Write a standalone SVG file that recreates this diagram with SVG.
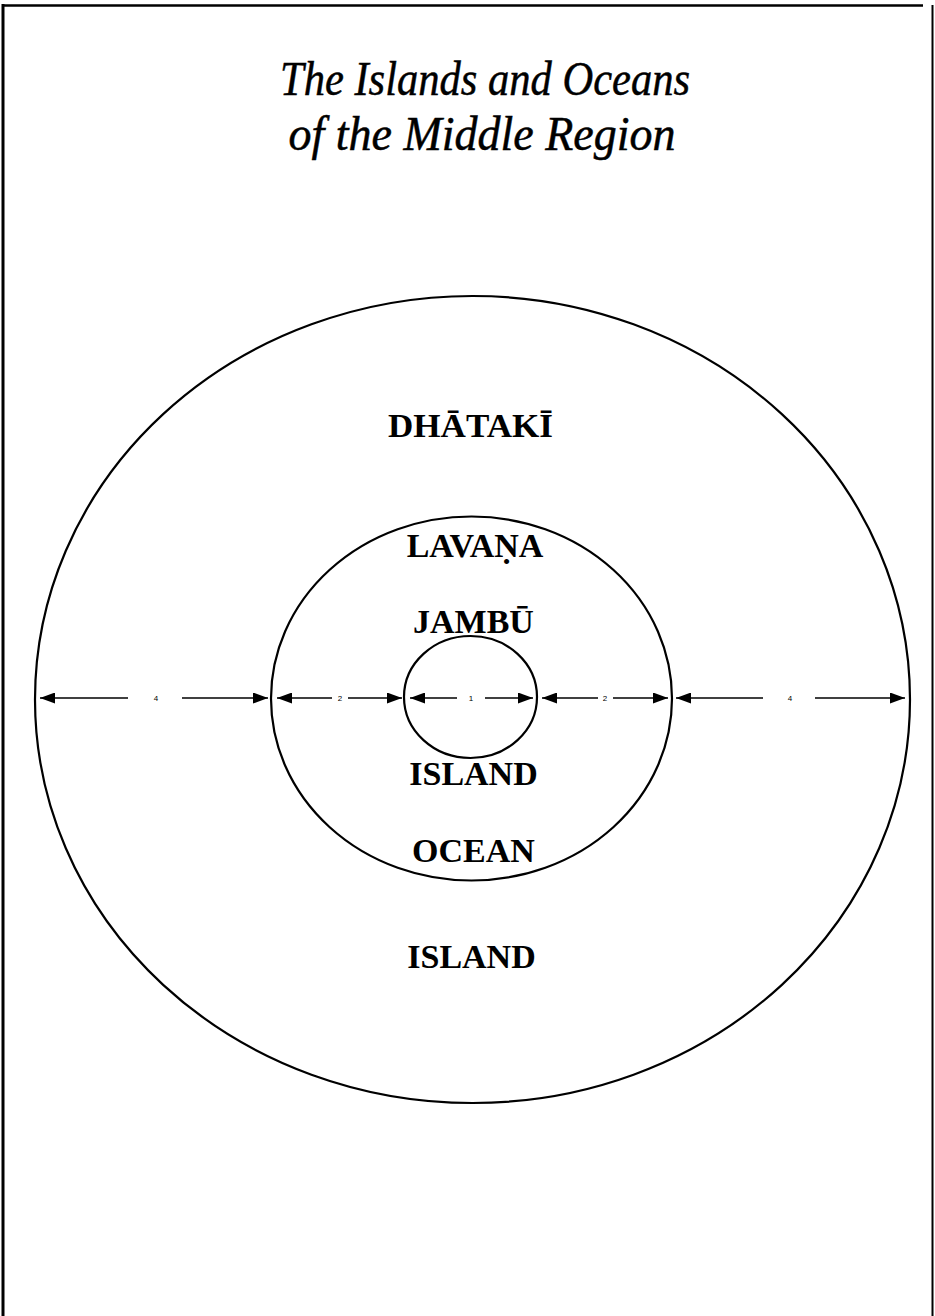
<svg xmlns="http://www.w3.org/2000/svg" width="935" height="1316" viewBox="0 0 935 1316">
<style>
.ring{fill:none;stroke:#000;stroke-width:2.2}
.lbl{font-family:"Liberation Serif","Times New Roman",serif;font-weight:bold;font-size:34px;text-anchor:middle;fill:#000}
.num{font-family:"Liberation Sans",Arial,sans-serif;font-size:8px;text-anchor:middle;fill:#000}
.ttl{font-family:"Liberation Serif","Times New Roman",serif;font-style:italic;font-size:48px;text-anchor:middle;fill:#000;stroke:#000;stroke-width:0.5}
.dim{stroke:#000;stroke-width:1.6;fill:none}
</style>
<defs>
<marker id="ah" viewBox="0 0 15 11" refX="15" refY="5.5" markerWidth="15" markerHeight="11" markerUnits="userSpaceOnUse" orient="auto">
<path d="M0,0 L15,5.5 L0,11 Z" fill="#000"/>
</marker>
</defs>
<rect width="935" height="1316" fill="#fff"/>
<g id="frame" stroke="#000" fill="none">
<line x1="2" y1="5.5" x2="923" y2="5.5" stroke-width="2.5"/>
<line x1="3" y1="4" x2="3" y2="1316" stroke-width="3"/>
<line x1="932.5" y1="5" x2="932.5" y2="1316" stroke-width="2"/>
</g>
<g id="title">
<text class="ttl" x="485" y="95" textLength="410" lengthAdjust="spacingAndGlyphs">The Islands and Oceans</text>
<text class="ttl" x="482" y="150" textLength="387" lengthAdjust="spacingAndGlyphs">of the Middle Region</text>
</g>
<g id="dhataki">
<ellipse class="ring" cx="472.5" cy="699.5" rx="437.5" ry="403.5"/>
<text class="lbl" x="470.5" y="437" textLength="165" lengthAdjust="spacingAndGlyphs">DHĀTAKĪ</text>
<text class="lbl" x="471.5" y="968">ISLAND</text>
</g>
<g id="lavana">
<ellipse class="ring" cx="471.5" cy="698.5" rx="200.5" ry="182"/>
<text class="lbl" x="475" y="557">LAVAṆA</text>
<text class="lbl" x="473.5" y="862">OCEAN</text>
</g>
<g id="jambu">
<ellipse class="ring" cx="470.5" cy="697" rx="66.5" ry="61"/>
<text class="lbl" x="473.5" y="633">JAMBŪ</text>
<text class="lbl" x="473.5" y="785">ISLAND</text>
</g>
<g id="connectors">
<line class="dim" x1="128" y1="698" x2="40" y2="698" marker-end="url(#ah)"/>
<line class="dim" x1="182" y1="698" x2="268" y2="698" marker-end="url(#ah)"/>
<line class="dim" x1="332" y1="698" x2="277" y2="698" marker-end="url(#ah)"/>
<line class="dim" x1="348" y1="698" x2="402" y2="698" marker-end="url(#ah)"/>
<line class="dim" x1="457" y1="698" x2="410" y2="698" marker-end="url(#ah)"/>
<line class="dim" x1="485" y1="698" x2="533" y2="698" marker-end="url(#ah)"/>
<line class="dim" x1="598" y1="698" x2="542" y2="698" marker-end="url(#ah)"/>
<line class="dim" x1="613" y1="698" x2="668" y2="698" marker-end="url(#ah)"/>
<line class="dim" x1="763" y1="698" x2="676" y2="698" marker-end="url(#ah)"/>
<line class="dim" x1="815" y1="698" x2="905" y2="698" marker-end="url(#ah)"/>
<text class="num" x="156" y="701">4</text>
<text class="num" x="340" y="701">2</text>
<text class="num" x="471" y="701">1</text>
<text class="num" x="605" y="701">2</text>
<text class="num" x="790" y="701">4</text>
</g>
</svg>
